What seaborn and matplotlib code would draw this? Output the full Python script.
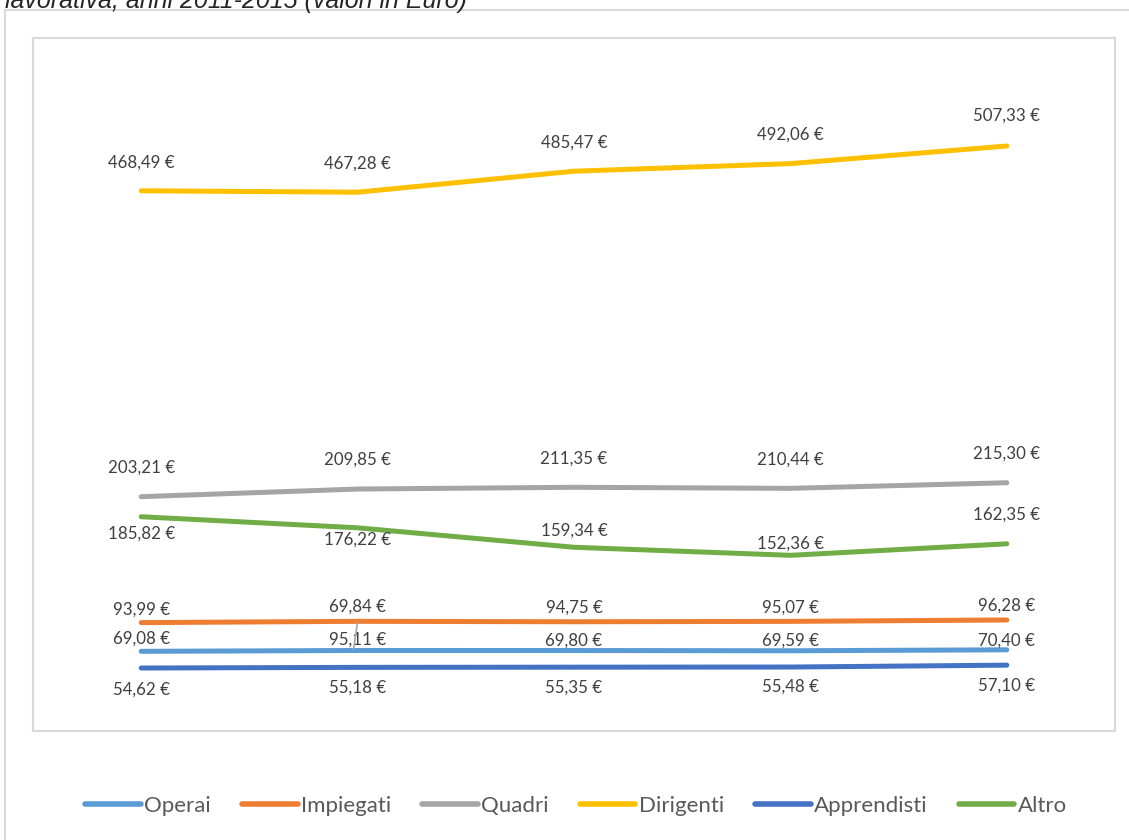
import matplotlib
import matplotlib.pyplot as plt
import pandas as pd
import seaborn as sns
from matplotlib.patches import Rectangle

matplotlib.use("Agg")
sns.set_theme(style="white")
plt.rcParams["font.family"] = ["Lato", "DejaVu Sans"]

years = [2011, 2012, 2013, 2014, 2015]
operai = [69.08, 69.84, 69.80, 69.59, 70.40]
impiegati = [93.99, 95.11, 94.75, 95.07, 96.28]
quadri = [203.21, 209.85, 211.35, 210.44, 215.30]
dirigenti = [468.49, 467.28, 485.47, 492.06, 507.33]
apprendisti = [54.62, 55.18, 55.35, 55.48, 57.10]
altro = [185.82, 176.22, 159.34, 152.36, 162.35]

series = {
    "Operai": operai,
    "Impiegati": impiegati,
    "Quadri": quadri,
    "Dirigenti": dirigenti,
    "Apprendisti": apprendisti,
    "Altro": altro,
}
palette = {
    "Operai": "#5B9BD5",
    "Impiegati": "#ED7D31",
    "Quadri": "#A5A5A5",
    "Dirigenti": "#FFC000",
    "Apprendisti": "#4472C4",
    "Altro": "#70AD47",
}
# label offsets in pixels (positive = above the line)
label_dy = {
    "Operai": [13, 44, 10, 10, 9],
    "Impiegati": [13, -18, 14, 14, 14],
    "Quadri": [29, 29, 29, 29, 29],
    "Dirigenti": [28, 29, 29, 29, 30],
    "Apprendisti": [-22, -20, -20, -20, -20],
    "Altro": [-17, -12, 17, 12, 29],
}

df = pd.DataFrame(
    [(name, y, v) for name, vals in series.items() for y, v in zip(years, vals)],
    columns=["serie", "anno", "valore"],
)

W, H = 1129, 840
fig = plt.figure(figsize=(W / 100, H / 100), dpi=100)
ax = fig.add_axes([33 / W, 1 - 731 / H, (1115 - 33) / W, (731 - 38) / H])

sns.lineplot(data=df, x="anno", y="valore", hue="serie", palette=palette,
             hue_order=list(series), linewidth=3.6, ax=ax, legend=False,
             solid_capstyle="round")

px = 0.72  # pixels -> points
for name, vals in series.items():
    for y, v, dy in zip(years, vals, label_dy[name]):
        txt = f"{v:.2f}".replace(".", ",") + " €"
        ax.annotate(txt, (y, v), xytext=(0, dy * px), textcoords="offset points",
                    ha="center", va="center", fontsize=12.2, color="#404040")

# leader line for the moved label
ax.annotate("", (years[1], impiegati[1]), xytext=(-4 * px, -28 * px),
            textcoords="offset points",
            arrowprops=dict(arrowstyle="-", color="#A6A6A6", lw=1.2,
                            shrinkA=0, shrinkB=0))

ax.set_xlim(2010.5, 2015.5)
ax.set_ylim(0, 601)
ax.set_xticks([])
ax.set_yticks([])
ax.set_xlabel("")
ax.set_ylabel("")
for s in ax.spines.values():
    s.set_color("#D9D9D9")
    s.set_linewidth(1.5)

# outer chart border (clipped at the image edge)
fig.patches.append(Rectangle((5 / W, -0.1), 1.2, 1 - 10 / H + 0.1, transform=fig.transFigure,
                             fill=False, edgecolor="#D9D9D9", lw=1.5))

fig.text(5 / W, 1 - 8 / H, "lavorativa, anni 2011-2015 (valori in Euro)",
         ha="left", va="baseline", fontsize=18, style="italic", color="#262626",
         family=["Liberation Sans", "DejaVu Sans"])

handles = [plt.Line2D([], [], color=palette[n], lw=4, solid_capstyle="round") for n in series]
fig.legend(handles, list(series), loc="center", bbox_to_anchor=(576 / W, 1 - 806 / H),
           ncol=6, frameon=False, fontsize=16, handlelength=2.5, handletextpad=0.15,
           columnspacing=1.4, labelcolor="#595959")

fig.savefig("out.png", dpi=100)
